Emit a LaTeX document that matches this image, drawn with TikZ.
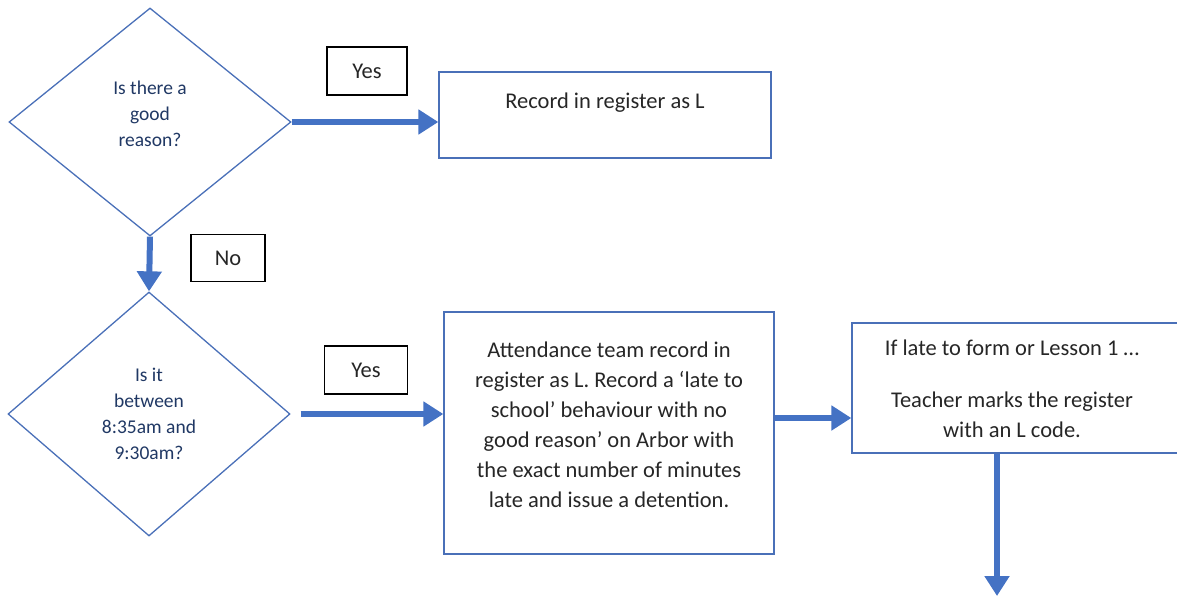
\documentclass[tikz,border=0pt]{standalone}
\usepackage{fontspec}
\setmainfont{Carlito}
\usetikzlibrary{shapes.geometric,arrows.meta,calc}
\definecolor{arrowblue}{HTML}{4472C4}
\definecolor{edgeblue}{HTML}{4A70B8}
\definecolor{qblue}{HTML}{203864}
\definecolor{txtgrey}{HTML}{262626}
\begin{document}
\begin{tikzpicture}[x=1pt,y=-1pt,
  decision/.style={draw=edgeblue,line width=1.3pt,diamond,inner sep=0pt,
    minimum width=282pt,minimum height=#1},
  qtext/.style={text=qblue,font=\fontsize{19.5}{26}\selectfont,align=center},
  procbox/.style={draw=edgeblue,line width=1.3pt,inner sep=0pt},
  btext/.style={text=txtgrey,font=\fontsize{22.5}{30}\selectfont,align=center},
  tagbox/.style={draw=black,line width=1.3pt,inner sep=0pt,text=txtgrey,
    font=\fontsize{22.5}{30}\selectfont},
  flow/.style={draw=arrowblue,line width=6pt,
    -{Triangle[length=20pt,width=24pt]}}]
\useasboundingbox (0,0) rectangle (1177,596);
% decisions
\node[decision=228pt] (d1) at (150,122) {};
\node[qtext] (q1) at (150,114) {Is there a\\good\\reason?};
\node[decision=244pt] (d2) at (149,414) {};
\node[qtext] (q2) at (149,414) {Is it\\between\\8:35am and\\9:30am?};
% process boxes
\node[procbox,minimum width=332pt,minimum height=86pt] (b1) at (605,115) {};
\node[btext,anchor=center] (t1) at (605,103) {Record in register as L};
\node[procbox,minimum width=330pt,minimum height=242pt] (b2) at (609,433) {};
\node[btext,anchor=north] (t2) at (609,338) {Attendance team record in\\register as L. Record a ‘late to\\school’ behaviour with no\\good reason’ on Arbor with\\the exact number of minutes\\late and issue a detention.};
\node[procbox,minimum width=332pt,minimum height=130pt] (b3) at (1018,388) {};
\node[btext] (t3a) at (1012,348) {If late to form or Lesson 1 …};
\node[btext,anchor=north] (t3b) at (1012,388) {Teacher marks the register\\with an L code.};
% tags
\node[tagbox,minimum width=80pt,minimum height=48pt] (y1) at (367,71) {Yes};
\node[tagbox,minimum width=74pt,minimum height=47pt] (n1) at (228,258) {No};
\node[tagbox,minimum width=83pt,minimum height=48pt] (y2) at (366,370) {Yes};
% connectors
\coordinate (a3) at (0,418);
\coordinate (a4) at (997,596);
\draw[flow] (d1.east) -- (d1.east -| b1.west);
\draw[flow] (d1.south) -- (d2.north);
\draw[flow] ([xshift=10pt]d2.east) -- (d2.east -| b2.west);
\draw[flow] (b2.east |- a3) -- (b3.west |- a3);
\draw[flow] (b3.south -| a4) -- (a4);
\end{tikzpicture}
\end{document}
